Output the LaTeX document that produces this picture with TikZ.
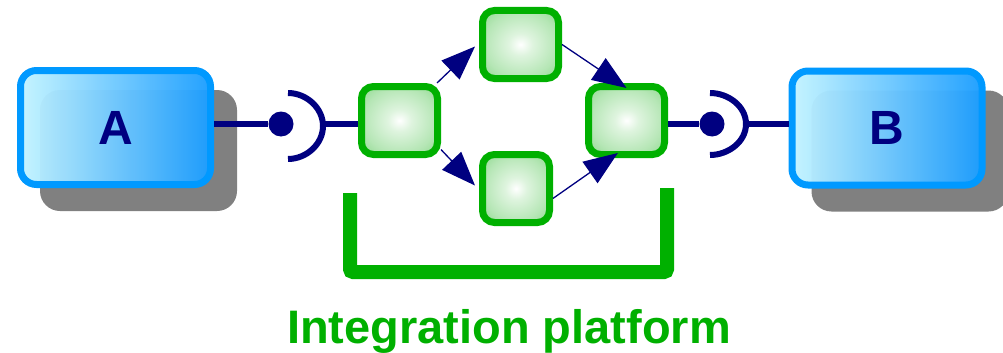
\documentclass[tikz,border=0pt]{standalone}
\usepackage{fontspec}
\setmainfont{Liberation Sans}
\usetikzlibrary{arrows.meta,backgrounds}
\definecolor{navy}{HTML}{000080}
\definecolor{platgreen}{HTML}{00B000}
\definecolor{boxgreen}{HTML}{5CC85C}
\definecolor{edgeblue}{HTML}{0099FF}
\definecolor{lightcyan}{HTML}{C4F4FF}
\definecolor{midblue}{HTML}{80D6FF}
\definecolor{deepblue}{HTML}{1C9EFF}
\definecolor{shadowgray}{HTML}{808080}
% soft glow for the service boxes
\pgfdeclareradialshading{serviceglow}{\pgfpoint{0bp}{0bp}}{%
  color(0bp)=(white); color(8bp)=(white!80!boxgreen);
  color(24bp)=(white!55!boxgreen); color(38bp)=(white!25!boxgreen);
  color(50bp)=(boxgreen)}
\tikzset{
  endpoint/.style={draw=edgeblue, line width=7pt, rounded corners=16pt,
    left color=lightcyan, middle color=midblue, right color=deepblue,
    fill opacity=0.97, text opacity=1,
    minimum width=190pt, minimum height=114pt, inner sep=0pt,
    font=\fontsize{48}{48}\selectfont\bfseries, text=navy},
  service/.style={draw=platgreen, line width=7pt, rounded corners=12pt,
    shading=serviceglow,
    minimum width=76pt, minimum height=68pt, inner sep=0pt},
  ball/.style={circle, fill=navy, minimum size=25pt, inner sep=0pt},
  wire/.style={draw=navy, line width=6pt},
  socket/.style={draw=navy, line width=6pt},
  flow/.style={draw=navy, line width=1.3pt, -{Triangle[length=34pt,width=26pt]}},
  bracket/.style={draw=platgreen, line width=14pt, rounded corners=3pt},
  shadowbox/.style={fill=shadowgray, rounded corners=20pt}
}
\begin{document}
\begin{tikzpicture}[x=1pt,y=-1pt]
\useasboundingbox (0,0) rectangle (1003,353);

% the two end systems
\node[endpoint] (A) at (115.5,127.5) {A\hspace{10pt}};
\node[endpoint] (B) at (887,128) {B\hspace{12pt}};

\begin{pgfonlayer}{background}
  \fill[shadowbox] ([shift={(23,23)}]A.north west) rectangle ([shift={(23,23)}]A.south east);
  \fill[shadowbox] ([shift={(23,23)}]B.north west) rectangle ([shift={(23,23)}]B.south east);
\end{pgfonlayer}

% services of the platform
\node[service] (g1) at (399.5,120.5) {};
\node[service] (g2) at (520.5,44.5) {};
\node[service, minimum width=67pt] (g3) at (516,188.5) {};
\node[service] (g4) at (626.5,120.5) {};

% internal flows
\draw[flow] (g1.45) -- ([xshift=-4pt,yshift=-2pt]g2.west);
\draw[flow] (g2.east) -- ([yshift=-5pt]g4.north);
\draw[flow] (g1.-35) -- ([xshift=-4pt,yshift=3pt]g3.west);
\draw[flow] (g3.-15) -- ([yshift=5pt]g4.-103);

% provided / required interfaces
\node[ball] (ba) at (281,124) {};
\node[ball] (bb) at (712,124) {};
\coordinate (sa) at (323,124);
\coordinate (sb) at (746,124);

\draw[wire] (A.east |- ba) -- (ba);
\draw[socket] (288,93) .. controls (306.2,93) and (323,107.8) .. (323,126)
              .. controls (323,144.2) and (306.2,159) .. (288,159);
\draw[wire] (sa) -- (g1.west |- sa);

\draw[wire] (g4.east |- bb) -- (bb);
\draw[socket] (710,93) .. controls (728,93) and (746,106) .. (746,124)
              .. controls (746,142) and (728,155) .. (710,155);
\draw[wire] (sb) -- (B.west |- sb);

% platform bracket and caption
\draw[bracket] (350,193) -- (350,272) -- (667,272) -- (667,188);
\node[text=platgreen, font=\fontsize{47}{47}\selectfont\bfseries, anchor=base] (cap) at (509,343) {Integration platform};
\end{tikzpicture}
\end{document}
